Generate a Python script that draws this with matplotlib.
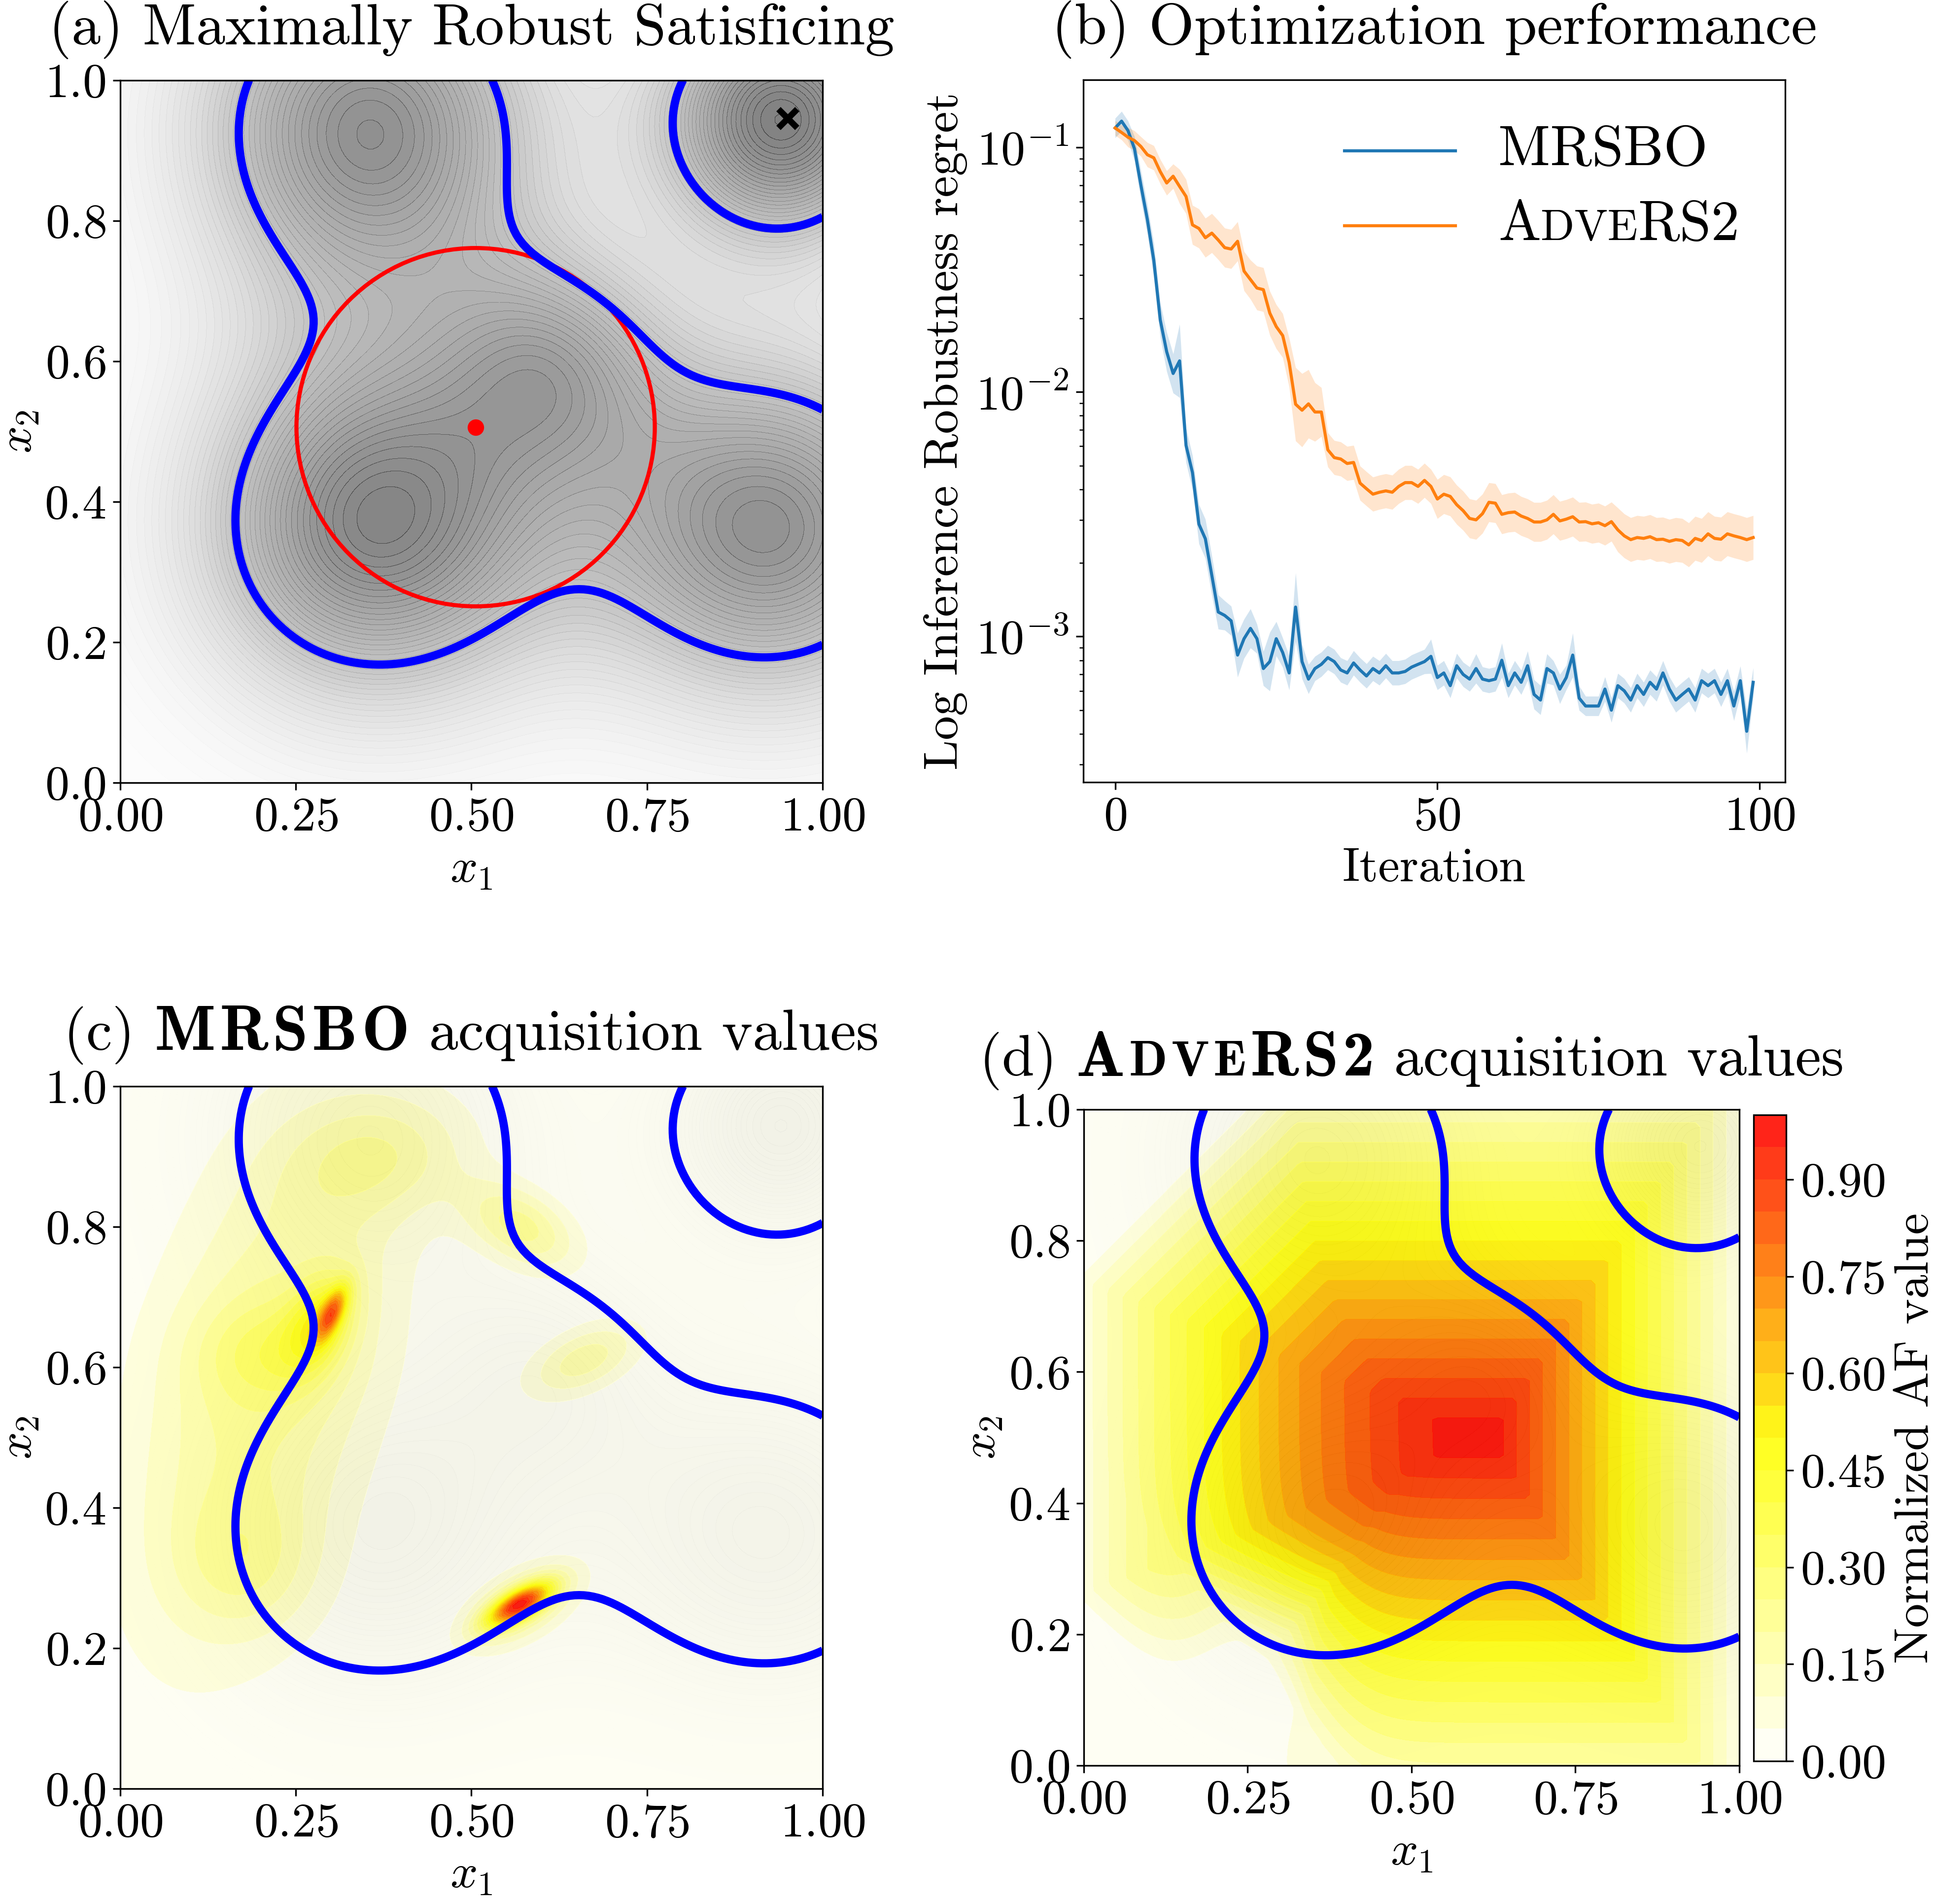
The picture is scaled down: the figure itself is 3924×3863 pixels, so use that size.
import numpy as np
import matplotlib
matplotlib.use('Agg')
import matplotlib.pyplot as plt
from matplotlib.colors import LinearSegmentedColormap
from matplotlib.patches import Circle
from matplotlib.lines import Line2D
from matplotlib.offsetbox import TextArea, HPacker, VPacker, DrawingArea, AnchoredOffsetbox

plt.rcParams['font.family'] = 'serif'
plt.rcParams['font.serif'] = ['cmr10']
plt.rcParams['mathtext.fontset'] = 'cm'
plt.rcParams['axes.formatter.use_mathtext'] = True
plt.rcParams['axes.unicode_minus'] = False

FS = 23.5     # ticks / labels
TFS = 28.4    # titles
LFS = 27.6    # legend

# ---- (b) regret curves
iters = np.arange(100)
mrsbo = [0.120, 0.128, 0.117, 0.0987, 0.070, 0.0507, 0.0345, 0.0197, 0.0146, 0.0119,
         0.0134, 0.00605, 0.00468, 0.00288, 0.00251, 0.00178, 0.00126, 0.00122, 0.00116, 0.00084,
         0.00098, 0.00108, 0.00098, 0.00074, 0.00079, 0.00098, 0.00086, 0.00071, 0.00132, 0.00079,
         0.00067, 0.00074, 0.00077, 0.00082, 0.00079, 0.00073, 0.00071, 0.00078, 0.00073, 0.00069,
         0.00074, 0.00071, 0.00076, 0.00071, 0.00071, 0.00072, 0.00075, 0.00077, 0.00079, 0.00083,
         0.00068, 0.00071, 0.00063, 0.00076, 0.00070, 0.00067, 0.00074, 0.00067, 0.00066, 0.00067,
         0.00080, 0.00063, 0.00071, 0.00065, 0.00076, 0.00058, 0.00055, 0.00074, 0.00071, 0.00061,
         0.00068, 0.00084, 0.00056, 0.00052, 0.00052, 0.00052, 0.00061, 0.00050, 0.00063, 0.00060,
         0.00055, 0.00063, 0.00058, 0.00065, 0.00061, 0.00071, 0.00061, 0.00055, 0.00058, 0.00061,
         0.00055, 0.00066, 0.00063, 0.00066, 0.00058, 0.00066, 0.00052, 0.00066, 0.00041, 0.00065]
# half width of the shaded band, in decades
mrsbo_spread = [0.04, 0.04, 0.04, 0.05, 0.06, 0.06, 0.07, 0.07, 0.08, 0.08,
                0.15, 0.07, 0.07, 0.08, 0.08, 0.08, 0.07, 0.06, 0.06, 0.09,
                0.08, 0.08, 0.06, 0.07, 0.12, 0.07, 0.06, 0.07, 0.14, 0.07,
                0.06, 0.05, 0.05, 0.05, 0.05, 0.05, 0.05, 0.05, 0.05, 0.05,
                0.05, 0.05, 0.05, 0.05, 0.05, 0.05, 0.05, 0.05, 0.05, 0.07,
                0.05, 0.05, 0.05, 0.05, 0.05, 0.05, 0.06, 0.05, 0.05, 0.05,
                0.07, 0.05, 0.05, 0.05, 0.06, 0.06, 0.06, 0.06, 0.05, 0.06,
                0.05, 0.09, 0.05, 0.04, 0.04, 0.04, 0.05, 0.05, 0.05, 0.05,
                0.05, 0.05, 0.05, 0.05, 0.05, 0.05, 0.05, 0.05, 0.05, 0.05,
                0.05, 0.05, 0.05, 0.05, 0.05, 0.05, 0.06, 0.06, 0.09, 0.06]
adv = [0.120, 0.115, 0.110, 0.1066, 0.1008, 0.0933, 0.0906, 0.0796, 0.0715, 0.0762,
       0.0692, 0.063, 0.0482, 0.0466, 0.0427, 0.0446, 0.0418, 0.0389, 0.0384, 0.0413,
       0.0312, 0.0288, 0.0266, 0.0262, 0.0210, 0.0185, 0.0170, 0.0132, 0.00891, 0.00842,
       0.00894, 0.00828, 0.00828, 0.00580, 0.00539, 0.00532, 0.00510, 0.00515, 0.00424, 0.00402,
       0.00382, 0.00389, 0.00394, 0.00389, 0.00411, 0.00426, 0.00426, 0.00411, 0.00435, 0.00411,
       0.00365, 0.00382, 0.00374, 0.00346, 0.00327, 0.00304, 0.00300, 0.00318, 0.00354, 0.00351,
       0.00316, 0.00321, 0.00323, 0.00311, 0.00304, 0.00294, 0.00294, 0.00300, 0.00316, 0.00297,
       0.00302, 0.00309, 0.00294, 0.00295, 0.00289, 0.00292, 0.00284, 0.00295, 0.00273, 0.00258,
       0.00249, 0.00254, 0.00252, 0.00256, 0.00249, 0.00250, 0.00245, 0.00249, 0.00247, 0.00237,
       0.00252, 0.00247, 0.00263, 0.00252, 0.00250, 0.00263, 0.00258, 0.00254, 0.00249, 0.00254]
adv_spread = [0.03, 0.03, 0.04, 0.04, 0.04, 0.05, 0.05, 0.05, 0.05, 0.05,
              0.07, 0.07, 0.08, 0.08, 0.08, 0.08, 0.08, 0.08, 0.08, 0.08,
              0.08, 0.08, 0.09, 0.09, 0.09, 0.09, 0.09, 0.10, 0.15, 0.15,
              0.14, 0.12, 0.10, 0.07, 0.07, 0.07, 0.07, 0.07, 0.07, 0.07,
              0.07, 0.07, 0.07, 0.07, 0.07, 0.07, 0.07, 0.07, 0.07, 0.07,
              0.08, 0.08, 0.08, 0.08, 0.08, 0.08, 0.08, 0.08, 0.08, 0.08,
              0.08, 0.08, 0.08, 0.08, 0.08, 0.08, 0.08, 0.08, 0.08, 0.08,
              0.08, 0.08, 0.08, 0.08, 0.08, 0.08, 0.08, 0.08, 0.09, 0.09,
              0.09, 0.09, 0.09, 0.09, 0.09, 0.09, 0.09, 0.09, 0.09, 0.09,
              0.09, 0.09, 0.09, 0.09, 0.09, 0.09, 0.09, 0.09, 0.09, 0.09]

# ---- (a) objective landscape: sum of gaussian bumps, blue line = satisficing level
bump_x = [0.362, 0.355, 0.925, 0.943, 0.62]
bump_y = [0.366, 0.932, 0.362, 0.946, 0.60]
bump_w = [0.19, 0.19, 0.19, 0.13, 0.12]
bump_a = [0.8902, 0.8363, 0.8246, 0.9318, 0.4379]
base_level = 0.0558
level = 0.58

circ_x, circ_y, circ_r = 0.506, 0.506, 0.255   # maximally robust point and its radius
best_x, best_y = 0.95, 0.946

# ---- (c) MRSBO acquisition: anisotropic blobs (x, y, sx, sy, angle, height)
c_cx = [0.20, 0.37, 0.18, 0.21, 0.285, 0.302, 0.568, 0.57, 0.57, 0.66]
c_cy = [0.58, 0.90, 0.32, 0.62, 0.665, 0.678, 0.262, 0.26, 0.80, 0.61]
c_sx = [0.11, 0.09, 0.07, 0.07, 0.030, 0.010, 0.035, 0.06, 0.06, 0.06]
c_sy = [0.26, 0.06, 0.07, 0.05, 0.050, 0.028, 0.013, 0.03, 0.035, 0.03]
c_th = [-15, 10, 0, 0, -25, -25, 30, 30, -30, 25]
c_amp = [0.22, 0.15, 0.12, 0.12, 0.30, 0.45, 0.75, 0.25, 0.22, 0.18]

# ---- (d) AdveRS2 acquisition: box-shaped peak
d_cx, d_cy = 0.62, 0.50
d_left, d_left_pow = 0.65, 1.5
d_right, d_up, d_down = 0.40, 0.60, 0.62
d_diag, d_diag_pow = 0.90, 1.5
dip_cx, dip_cy, dip_wx, dip_wy, dip_amp = 0.27, 0.15, 0.08, 0.10, 0.30

g = np.linspace(0, 1, 151)
X, Y = np.meshgrid(g, g)

F = np.full_like(X, base_level)
for bx, by, bw, ba in zip(bump_x, bump_y, bump_w, bump_a):
    F += ba * np.exp(-((X - bx) ** 2 + (Y - by) ** 2) / (2 * bw ** 2))


def blob(cx, cy, sx, sy, th, a):
    t = np.deg2rad(th)
    u = (X - cx) * np.cos(t) + (Y - cy) * np.sin(t)
    v = -(X - cx) * np.sin(t) + (Y - cy) * np.cos(t)
    return a * np.exp(-0.5 * ((u / sx) ** 2 + (v / sy) ** 2))


AFc = sum(blob(*p) for p in zip(c_cx, c_cy, c_sx, c_sy, c_th, c_amp))
AFc = AFc / AFc.max()

dx = X - d_cx
dy = Y - d_cy
left = np.clip(-dx, 0, None)
nrm = np.maximum.reduce([(left / d_left) ** d_left_pow,
                         np.clip(dx, 0, None) / d_right,
                         np.clip(dy, 0, None) / d_up,
                         np.clip(-dy, 0, None) / d_down,
                         ((left + np.abs(dy)) / d_diag) ** d_diag_pow])
AFd = np.clip(1 - nrm, 0, None)
AFd -= dip_amp * np.exp(-0.5 * np.maximum(np.abs(X - dip_cx) / dip_wx,
                                          np.abs(Y - dip_cy) / dip_wy) ** 2)
AFd = np.clip(AFd, 0, 1)

wyr = LinearSegmentedColormap.from_list('wyr', ['white', 'yellow', 'red'])
af_levels = np.linspace(0, 1, 21)

fig = plt.figure(figsize=(13.08, 12.877), dpi=300)
ax_a = fig.add_axes([0.0621, 0.5889, 0.3633, 0.3690])
ax_b = fig.add_axes([0.5601, 0.5892, 0.3629, 0.3689])
ax_c = fig.add_axes([0.0621, 0.0606, 0.3633, 0.3689])
ax_d = fig.add_axes([0.5604, 0.0727, 0.3389, 0.3446])
cax = fig.add_axes([0.9067, 0.0751, 0.0168, 0.3394])


def mixed_text(parts, size):
    # parts: (text, kind); kind has 's' for small caps, 'b' for bold extended
    segs = []
    group = None
    for txt, kind in parts:
        scale = 0.78 if 's' in kind else 1.0
        if 'b' in kind:
            if group is None:
                group = []
                segs.append(group)
            for ch in txt:
                group.append(TextArea(ch, textprops=dict(fontsize=size * scale * 1.1, family='cmb10')))
        else:
            group = None
            segs.append(TextArea(txt, textprops=dict(fontsize=size * scale, family='cmr10')))
    kids = [HPacker(children=s, align='baseline', pad=0, sep=2) if isinstance(s, list) else s
            for s in segs]
    return HPacker(children=kids, align='baseline', pad=0, sep=0)


def put_title(ax, parts, gap=0.030):
    ax.add_artist(AnchoredOffsetbox(loc='lower center', child=mixed_text(parts, TFS),
                                    bbox_to_anchor=(0.5, 1 + gap), bbox_transform=ax.transAxes,
                                    frameon=False, pad=0, borderpad=0))


def base_map(ax):
    ax.contourf(X, Y, F, levels=50, cmap='Greys', alpha=0.5, antialiased=False)


def boundary(ax):
    ax.contour(X, Y, F, levels=[level], colors='blue', linewidths=4)


def style_map(ax):
    ax.set_xlim(0, 1)
    ax.set_ylim(0, 1)
    ax.set_xticks([0, 0.25, 0.5, 0.75, 1.0])
    ax.set_yticks([0, 0.2, 0.4, 0.6, 0.8, 1.0])
    ax.tick_params(labelsize=FS)
    ax.set_xlabel(r'$x_1$', fontsize=FS)
    ax.set_ylabel(r'$x_2$', fontsize=FS, labelpad=2)


# (a)
base_map(ax_a)
boundary(ax_a)
ax_a.add_patch(Circle((circ_x, circ_y), circ_r, fill=False, ec='red', lw=2))
ax_a.plot(circ_x, circ_y, 'o', color='red', ms=7)
ax_a.plot(best_x, best_y, 'x', color='black', ms=9, mew=3)
style_map(ax_a)
put_title(ax_a, [('(a) Maximally Robust Satisficing', 'n')])

# (b)
mr = np.array(mrsbo)
ad = np.array(adv)
ax_b.fill_between(iters, mr / 10 ** np.array(mrsbo_spread), mr * 10 ** np.array(mrsbo_spread),
                  color='C0', alpha=0.2, lw=0)
ax_b.fill_between(iters, ad / 10 ** np.array(adv_spread), ad * 10 ** np.array(adv_spread),
                  color='C1', alpha=0.2, lw=0)
ax_b.plot(iters, mr, color='C0', lw=1.5)
ax_b.plot(iters, ad, color='C1', lw=1.5)
ax_b.set_yscale('log')
ax_b.set_ylim(2.54e-4, 0.189)
ax_b.set_xlim(-4.95, 103.95)
ax_b.set_xticks([0, 50, 100])
ax_b.tick_params(labelsize=FS)
ax_b.set_xlabel('Iteration', fontsize=FS)
ax_b.set_ylabel('Log Inference Robustness regret', fontsize=FS)
put_title(ax_b, [('(b) Optimization performance', 'n')])

rows = []
for col, parts in [('C0', [('MRSBO', 'n')]), ('C1', [('A', 'n'), ('DVE', 's'), ('RS2', 'n')])]:
    da = DrawingArea(54, 20, 0, 0)
    da.add_artist(Line2D([0, 54], [10, 10], color=col, lw=1.5))
    rows.append(HPacker(children=[da, mixed_text(parts, LFS)], align='center', pad=0, sep=21))
leg = AnchoredOffsetbox(loc='upper left', child=VPacker(children=rows, align='left', pad=0, sep=12),
                        bbox_to_anchor=(0.372, 0.935), bbox_transform=ax_b.transAxes,
                        frameon=False, pad=0, borderpad=0)
ax_b.add_artist(leg)

# (c)
base_map(ax_c)
ax_c.contourf(X, Y, AFc, levels=af_levels, cmap=wyr, alpha=0.9)
boundary(ax_c)
style_map(ax_c)
put_title(ax_c, [('(c) ', 'n'), ('MRSBO', 'b'), (' acquisition values', 'n')], gap=0.031)

# (d)
base_map(ax_d)
cs = ax_d.contourf(X, Y, AFd, levels=af_levels, cmap=wyr, alpha=0.9)
boundary(ax_d)
style_map(ax_d)
put_title(ax_d, [('(d) ', 'n'), ('A', 'b'), ('DVE', 'bs'), ('RS2', 'b'), (' acquisition values', 'n')],
          gap=0.029)
cb = fig.colorbar(cs, cax=cax, ticks=[0, 0.15, 0.3, 0.45, 0.6, 0.75, 0.9], format='%.2f')
cb.ax.tick_params(labelsize=FS)
cb.set_label('Normalized AF value', fontsize=FS)

fig.savefig('out.png', dpi=300)
